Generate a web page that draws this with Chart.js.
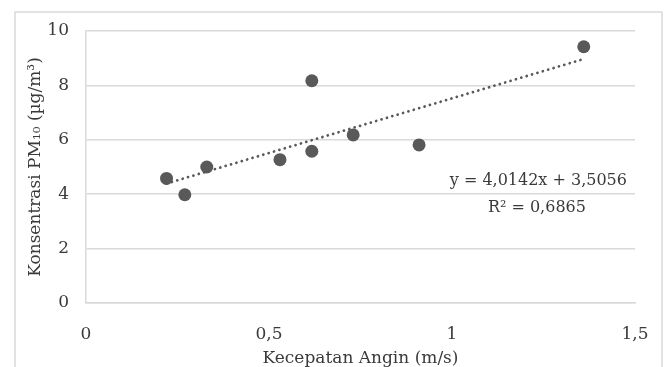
<!DOCTYPE html>
<html>
<head>
<meta charset="utf-8">
<script src="https://cdn.jsdelivr.net/npm/chart.js"></script>
<style>
  html, body { margin: 0; padding: 0; background: #fff; }
  #wrap { position: relative; width: 664px; height: 367px; }
</style>
</head>
<body>
<div id="wrap"><canvas id="chart" width="664" height="367"></canvas></div>
<script>
const WIND_SPEED = [0.22, 0.27, 0.33, 0.53, 0.617, 0.617, 0.73, 0.91, 1.36];
const PM10 = [4.58, 3.98, 5.0, 5.27, 8.17, 5.58, 6.18, 5.81, 9.42];

// dotted trendline endpoints
const TREND_X = [0.22, 1.36];
const TREND_Y = [4.39, 8.97];

const X_TICKS = [0, 0.5, 1, 1.5];
const Y_TICKS = [0, 2, 4, 6, 8, 10];

const EQUATION = "y = 4,0142x + 3,5056";
const R_SQUARED = "R² = 0,6865";

const TEXT_COLOR = "#3a3a3a";
const MARK_COLOR = "#595959";
const GRID_COLOR = "#d9d9d9";
const FONT = "'DejaVu Serif', 'Liberation Serif', serif";

const frame = {
  id: "frame",
  beforeDraw(chart) {
    const ctx = chart.ctx;
    ctx.save();
    ctx.fillStyle = "#fff";
    ctx.fillRect(0, 0, chart.width, chart.height);
    ctx.strokeStyle = GRID_COLOR;
    ctx.lineWidth = 1.5;
    ctx.strokeRect(15, 12, chart.width - 17, chart.height);
    ctx.restore();
  },
};

const trendLabel = {
  id: "trendLabel",
  afterDatasetsDraw(chart) {
    const { ctx, scales } = chart;
    ctx.save();
    ctx.fillStyle = TEXT_COLOR;
    ctx.font = "16px " + FONT;
    ctx.textBaseline = "alphabetic";
    ctx.textAlign = "right";
    ctx.fillText(EQUATION, scales.x.getPixelForValue(1.478), scales.y.getPixelForValue(4.34));
    ctx.textAlign = "center";
    ctx.fillText(R_SQUARED, scales.x.getPixelForValue(1.232), scales.y.getPixelForValue(3.33));
    ctx.restore();
  },
};

const fmt = (v) => String(v).replace(".", ",");

new Chart(document.getElementById("chart"), {
  type: "scatter",
  data: {
    datasets: [
      {
        label: "PM10",
        data: WIND_SPEED.map((x, i) => ({ x, y: PM10[i] })),
        backgroundColor: MARK_COLOR,
        borderColor: MARK_COLOR,
        pointRadius: 6.5,
        borderWidth: 0,
      },
      {
        label: "Trend",
        type: "line",
        data: TREND_X.map((x, i) => ({ x, y: TREND_Y[i] })),
        borderColor: MARK_COLOR,
        borderWidth: 2.8,
        borderDash: [0.01, 5.6],
        borderCapStyle: "round",
        pointRadius: 0,
        fill: false,
      },
    ],
  },
  options: {
    responsive: false,
    animation: false,
    layout: { padding: { left: 0, top: 31, right: 29, bottom: 0 } },
    plugins: { legend: { display: false }, tooltip: { enabled: false } },
    scales: {
      x: {
        type: "linear",
        min: 0,
        max: 1.5,
        afterBuildTicks: (s) => { s.ticks = X_TICKS.map((value) => ({ value })); },
        afterFit: (s) => {
          s.height = 64;
          s.paddingLeft = 0;
          s.paddingRight = 0;
        },
        grid: { display: false, drawTicks: false },
        border: { display: true, color: GRID_COLOR, width: 1.5 },
        ticks: { color: TEXT_COLOR, font: { family: FONT, size: 17 }, padding: 21, callback: fmt },
        title: {
          display: true,
          text: "Kecepatan Angin (m/s)",
          color: TEXT_COLOR,
          font: { family: FONT, size: 17 },
          padding: { top: 0, bottom: -2 },
        },
      },
      y: {
        min: 0,
        max: 10,
        afterBuildTicks: (s) => { s.ticks = Y_TICKS.map((value) => ({ value })); },
        afterFit: (s) => {
          s.width = 86;
          s.paddingTop = 0;
          s.paddingBottom = 0;
        },
        grid: { color: GRID_COLOR, lineWidth: 1.5, drawTicks: false },
        border: { display: true, color: GRID_COLOR, width: 1.5 },
        ticks: { color: TEXT_COLOR, font: { family: FONT, size: 17 }, padding: 17 },
        title: {
          display: true,
          text: "Konsentrasi PM₁₀ (µg/m³)",
          color: TEXT_COLOR,
          font: { family: FONT, size: 17 },
          padding: { top: 25, bottom: 0 },
        },
      },
    },
  },
  plugins: [frame, trendLabel],
});
</script>
</body>
</html>
